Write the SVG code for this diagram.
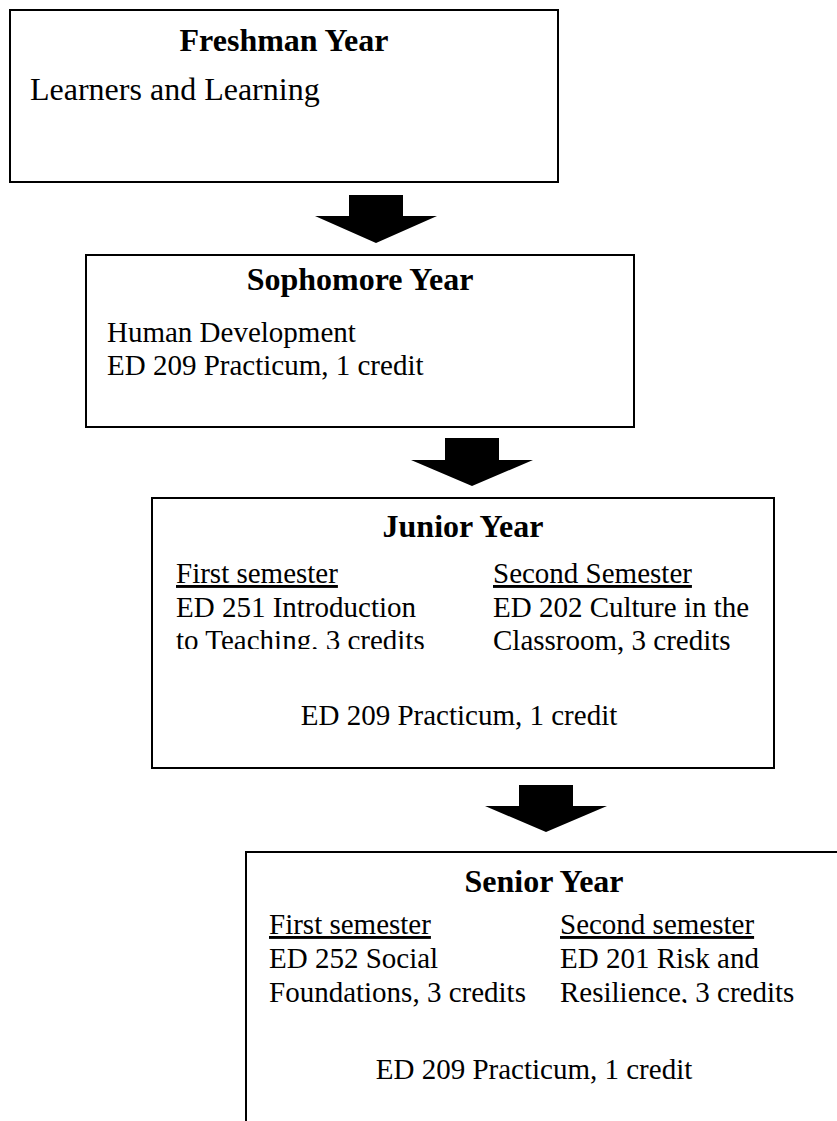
<svg xmlns="http://www.w3.org/2000/svg" width="837" height="1121" viewBox="0 0 837 1121">
<style>
.box{fill:#fff;stroke:#000;stroke-width:2}
.h{font-family:"Liberation Serif","Times New Roman",serif;font-weight:bold;font-size:32px;fill:#000;text-anchor:middle}
.t{font-family:"Liberation Serif","Times New Roman",serif;font-size:29px;fill:#000}
.tl{font-family:"Liberation Serif","Times New Roman",serif;font-size:32px;fill:#000}
.u{text-decoration:underline}
.c{text-anchor:middle}
.arrow{fill:#000;stroke:none}
</style>
<defs>
<clipPath id="clipJL"><rect x="160" y="560" width="310" height="89"/></clipPath>
<clipPath id="clipSR"><rect x="550" y="900" width="287" height="103"/></clipPath>
</defs>
<rect width="837" height="1121" fill="#fff"/>
<g id="connectors">
<polygon class="arrow" points="349,195 403,195 403,216 437,216 376,243 315,216 349,216"/>
<polygon class="arrow" points="445,438 499,438 499,460 533,460 472,486 411,460 445,460"/>
<polygon class="arrow" points="519,785 573,785 573,806 607,806 546,832 485,806 519,806"/>
</g>
<g id="freshman">
<rect class="box" x="10" y="10" width="548" height="172"/>
<text class="h" x="284" y="51">Freshman Year</text>
<text class="tl" x="30" y="100">Learners and Learning</text>
</g>
<g id="sophomore">
<rect class="box" x="86" y="255" width="548" height="172"/>
<text class="h" x="360" y="290">Sophomore Year</text>
<text class="t" x="107" y="342">Human Development</text>
<text class="t" x="107" y="375">ED 209 Practicum, 1 credit</text>
</g>
<g id="junior">
<rect class="box" x="152" y="498" width="622" height="270"/>
<text class="h" x="463" y="537">Junior Year</text>
<g clip-path="url(#clipJL)">
<text class="t u" x="176" y="583">First semester</text>
<text class="t" x="176" y="617">ED 251 Introduction</text>
<text class="t" x="176" y="650">to Teaching, 3 credits</text>
</g>
<text class="t u" x="493" y="583">Second Semester</text>
<text class="t" x="493" y="617">ED 202 Culture in the</text>
<text class="t" x="493" y="650">Classroom, 3 credits</text>
<text class="t c" x="459" y="725">ED 209 Practicum, 1 credit</text>
</g>
<g id="senior">
<rect class="box" x="246" y="852" width="600" height="290"/>
<text class="h" x="544" y="892">Senior Year</text>
<text class="t u" x="269" y="934">First semester</text>
<text class="t" x="269" y="968">ED 252 Social</text>
<text class="t" x="269" y="1002">Foundations, 3 credits</text>
<g clip-path="url(#clipSR)">
<text class="t u" x="560" y="934">Second semester</text>
<text class="t" x="560" y="968">ED 201 Risk and</text>
<text class="t" x="560" y="1002">Resilience, 3 credits</text>
</g>
<text class="t c" x="534" y="1079">ED 209 Practicum, 1 credit</text>
</g>
</svg>
